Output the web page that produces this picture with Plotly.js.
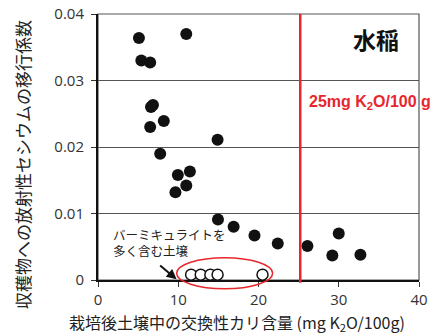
<!DOCTYPE html>
<html>
<head>
<meta charset="utf-8">
<script src="https://cdn.plot.ly/plotly-3.0.1.min.js"></script>
<style>html,body{margin:0;padding:0;background:#fff;}#chart{width:432px;height:334px;}</style>
</head>
<body>
<div id="chart"></div>
<script>
// Filled circles: ordinary soils
var xFilled = [5.1, 11.0, 5.4, 6.5, 6.85, 6.6, 8.2, 6.5, 14.9, 7.75, 9.95, 11.45, 11.0, 9.65, 14.95, 16.9, 19.5, 22.4, 26.1, 30.0, 29.2, 32.7];
var yFilled = [0.0364, 0.0370, 0.0330, 0.0327, 0.0263, 0.0260, 0.0239, 0.0230, 0.0211, 0.0190, 0.0158, 0.0163, 0.0142, 0.0132, 0.0091, 0.0080, 0.0067, 0.0055, 0.0051, 0.0070, 0.0037, 0.0038];
// Open circles: soils rich in vermiculite
var xOpen = [11.6, 12.8, 14.0, 14.9, 20.5];
var yOpen = [0.0008, 0.0008, 0.0008, 0.0008, 0.0008];
var yTickVals = [0, 0.01, 0.02, 0.03, 0.04];
var yTickText = ['0', '0.01', '0.02', '0.03', '0.04'];
var xTickVals = [0, 10, 20, 30, 40];
var thresholdK = 25.2;

var jp = '"Noto Sans CJK JP", "Noto Sans", sans-serif';
var tickFont = {family: '"Open Sans", "Noto Sans", sans-serif', size: 15, color: '#333'};

var traces = [
  {x: xFilled, y: yFilled, type: 'scatter', mode: 'markers',
   marker: {size: 12, color: '#111', line: {width: 0}}, cliponaxis: false, hoverinfo: 'skip'},
  {x: xOpen, y: yOpen, type: 'scatter', mode: 'markers',
   marker: {size: 11, color: '#fff', line: {width: 1.5, color: '#111'}}, cliponaxis: false, hoverinfo: 'skip'}
];

var layout = {
  width: 432, height: 334,
  margin: {l: 98, r: 13, t: 14, b: 54},
  paper_bgcolor: '#fff', plot_bgcolor: '#fff',
  showlegend: false,
  xaxis: {range: [0, 40], tickvals: xTickVals, ticks: 'outside', ticklen: 5, tickcolor: '#333',
          showline: true, linecolor: '#111', linewidth: 2, showgrid: false, zeroline: false,
          tickfont: tickFont, fixedrange: true},
  yaxis: {range: [0, 0.04], tickvals: yTickVals, ticktext: yTickText, ticks: 'outside', ticklen: 5, tickcolor: '#333',
          ticklabelstandoff: 4,
          showline: true, linecolor: '#111', linewidth: 2, showgrid: true, gridcolor: '#555', gridwidth: 1,
          zeroline: false, tickfont: tickFont, fixedrange: true},
  shapes: [
    {type: 'rect', xref: 'paper', yref: 'paper', x0: 0, x1: 1, y0: 0, y1: 1, line: {color: '#555', width: 1.2}, layer: 'below'},
    {type: 'line', xref: 'x', yref: 'paper', x0: thresholdK, x1: thresholdK, y0: -0.01, y1: 1, line: {color: '#e8262d', width: 2.5}},
    {type: 'circle', xref: 'paper', yref: 'paper', x0: 0.245, x1: 0.544, y0: -0.033, y1: 0.084, line: {color: '#e8262d', width: 1.5}, layer: 'above'}
  ],
  annotations: [
    {text: '収穫物への放射性セシウムの移行係数', xref: 'paper', yref: 'paper', x: -0.237, y: 0.436,
     textangle: -90, showarrow: false, font: {family: jp, size: 17, color: '#222'}, xanchor: 'center', yanchor: 'middle'},
    {text: '栽培後土壌中の交換性カリ含量 (mg K<sub>2</sub>O/100g)', xref: 'paper', yref: 'paper', x: 0.433, y: -0.158,
     showarrow: false, font: {family: jp, size: 16, color: '#222'}, xanchor: 'center', yanchor: 'middle'},
    {text: '<b>水稲</b>', xref: 'paper', yref: 'paper', x: 0.865, y: 0.905, showarrow: false,
     font: {family: jp, size: 23, color: '#111'}, xanchor: 'center', yanchor: 'middle'},
    {text: '<b>25mg K<sub>2</sub>O/100 g</b>', xref: 'paper', yref: 'paper', x: 0.651, y: 0.669, showarrow: false,
     font: {family: '"Liberation Sans", Arial, sans-serif', size: 16, color: '#e8262d'}, xanchor: 'left', yanchor: 'middle'},
    {text: 'バーミキュライトを<br>多く含む土壌', xref: 'paper', yref: 'paper', x: 0.04, y: 0.14, showarrow: false,
     align: 'left', font: {family: jp, size: 12.5, color: '#222'}, xanchor: 'left', yanchor: 'middle'},
    {text: '', xref: 'x', yref: 'y', x: 9.8, y: 0.0001, ax: -18, ay: -15, showarrow: true,
     arrowhead: 2, arrowsize: 1, arrowwidth: 2, arrowcolor: '#111'}
  ]
};

Plotly.newPlot('chart', traces, layout, {staticPlot: true, displayModeBar: false});
</script>
</body>
</html>
